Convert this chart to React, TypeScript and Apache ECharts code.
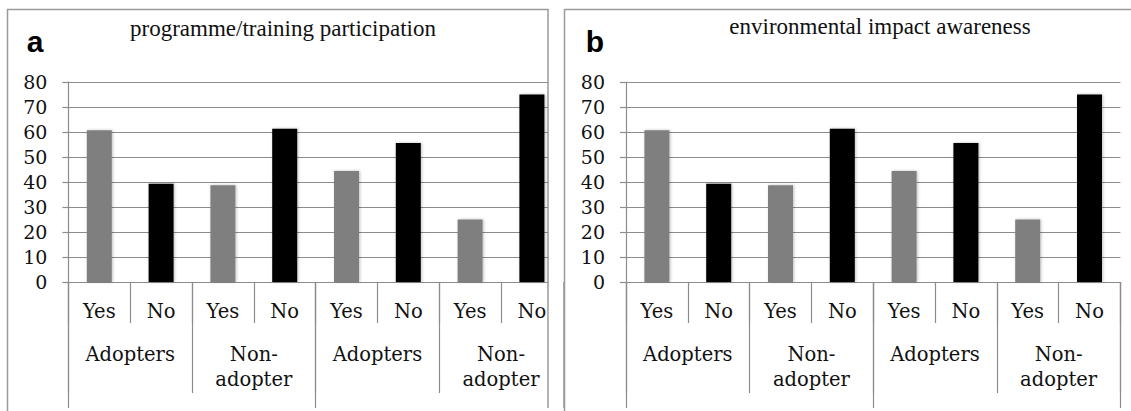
import React, { useEffect, useRef } from "react";
import * as echarts from "echarts";

const answers = ["Yes", "No", "Yes", "No", "Yes", "No", "Yes", "No"];
const groups = ["Adopters", "Non-\nadopter", "Adopters", "Non-\nadopter"];
const halves = ["", ""];
const participation = [60.7, 39.3, 38.7, 61.3, 44.4, 55.6, 25.0, 75.0];
const awareness = [60.7, 39.3, 38.7, 61.3, 44.4, 55.6, 25.0, 75.0];
const yTicks = { min: 0, max: 80, interval: 10 };
const titles = ["programme/training participation", "environmental impact awareness"];
const letters = ["a", "b"];

const answerColor: Record<string, string> = { Yes: "#7f7f7f", No: "#000000" };
const LINE = "#8c8c8c";
const TXT = "#111111";
const SERIF = "'DejaVu Serif', serif";

export default function App() {
  const ref = useRef<HTMLDivElement>(null);
  useEffect(() => {
    document.body.style.margin = "0";
    const chart = echarts.init(ref.current!, null, { renderer: "svg" });
    const grids = [
      { left: 68.4, top: 82, width: 494.4, height: 200 },
      { left: 626, top: 82, width: 494.4, height: 200 },
    ];
    const xAxis: any[] = [];
    const yAxis: any[] = [];
    const series: any[] = [];
    [participation, awareness].forEach((vals, g) => {
      xAxis.push({
        type: "category",
        gridIndex: g,
        position: "bottom",
        data: answers,
        axisLine: { show: true, lineStyle: { color: LINE, width: 1.2 } },
        axisTick: { show: true, interval: 0, length: 41, lineStyle: { color: LINE, width: 1.2 } },
        axisLabel: {
          interval: 0,
          margin: 16.5,
          color: TXT,
          fontFamily: SERIF,
          fontSize: 19.5,
          lineHeight: 25,
        },
      });
      xAxis.push({
        type: "category",
        gridIndex: g,
        position: "bottom",
        data: groups,
        axisLine: { show: false },
        axisTick: { show: true, interval: 0, length: 111, lineStyle: { color: LINE, width: 1.2 } },
        axisLabel: {
          interval: 0,
          margin: 59.5,
          color: TXT,
          fontFamily: SERIF,
          fontSize: 19.5,
          lineHeight: 25,
        },
      });
      xAxis.push({
        type: "category",
        gridIndex: g,
        position: "bottom",
        data: halves,
        axisLine: { show: false },
        axisTick: { show: true, interval: 0, length: 126, lineStyle: { color: LINE, width: 1.2 } },
        axisLabel: { show: false },
      });
      yAxis.push({
        type: "value",
        gridIndex: g,
        min: yTicks.min,
        max: yTicks.max,
        interval: yTicks.interval,
        axisLine: { show: true, lineStyle: { color: LINE, width: 1.2 } },
        axisTick: { show: true, length: 6, lineStyle: { color: LINE, width: 1.2 } },
        splitLine: { show: true, lineStyle: { color: LINE, width: 1.2 } },
        axisLabel: { margin: 21, color: TXT, fontFamily: SERIF, fontSize: 19 },
      });
      series.push({
        type: "bar",
        xAxisIndex: g * 3,
        yAxisIndex: g,
        barWidth: 25,
        data: vals.map((v, i) => ({
          value: v,
          itemStyle: {
            color: answerColor[answers[i]],
            shadowBlur: 3,
            shadowColor: "rgba(0,0,0,0.25)",
            shadowOffsetX: 1,
            shadowOffsetY: 0,
          },
        })),
      });
    });

    const border = { stroke: "#9a9a9a", lineWidth: 1.5 };
    const graphic: any[] = [
      { type: "rect", z: 100, shape: { x: 548.5, y: 60, width: 14.8, height: 360 }, style: { fill: "#ffffff" } },
      { type: "line", z: 101, shape: { x1: 7, y1: 9.5, x2: 548.5, y2: 9.5 }, style: border },
      { type: "line", z: 101, shape: { x1: 7.5, y1: 9, x2: 7.5, y2: 411 }, style: border },
      { type: "line", z: 101, shape: { x1: 548, y1: 9, x2: 548, y2: 408 }, style: border },
      { type: "line", z: 101, shape: { x1: 564, y1: 9.5, x2: 1131, y2: 9.5 }, style: border },
      { type: "line", z: 101, shape: { x1: 564.5, y1: 9, x2: 564.5, y2: 411 }, style: border },
      {
        type: "text", z: 102, x: 283, y: 28,
        style: { text: titles[0], font: "23px 'Liberation Serif', serif", fill: TXT, textAlign: "center", textVerticalAlign: "middle" },
      },
      {
        type: "text", z: 102, x: 880, y: 26,
        style: { text: titles[1], font: "23px 'Liberation Serif', serif", fill: TXT, textAlign: "center", textVerticalAlign: "middle" },
      },
      {
        type: "text", z: 102, x: 35, y: 41,
        style: { text: letters[0], font: "bold 30px 'Liberation Sans', sans-serif", fill: "#000", textAlign: "center", textVerticalAlign: "middle" },
      },
      {
        type: "text", z: 102, x: 595, y: 41,
        style: { text: letters[1], font: "bold 30px 'Liberation Sans', sans-serif", fill: "#000", textAlign: "center", textVerticalAlign: "middle" },
      },
    ];

    chart.setOption({
      animation: false,
      backgroundColor: "#ffffff",
      grid: grids,
      xAxis,
      yAxis,
      series,
      graphic,
    });
    return () => chart.dispose();
  }, []);
  return <div ref={ref} style={{ width: 1131, height: 411 }} />;
}
